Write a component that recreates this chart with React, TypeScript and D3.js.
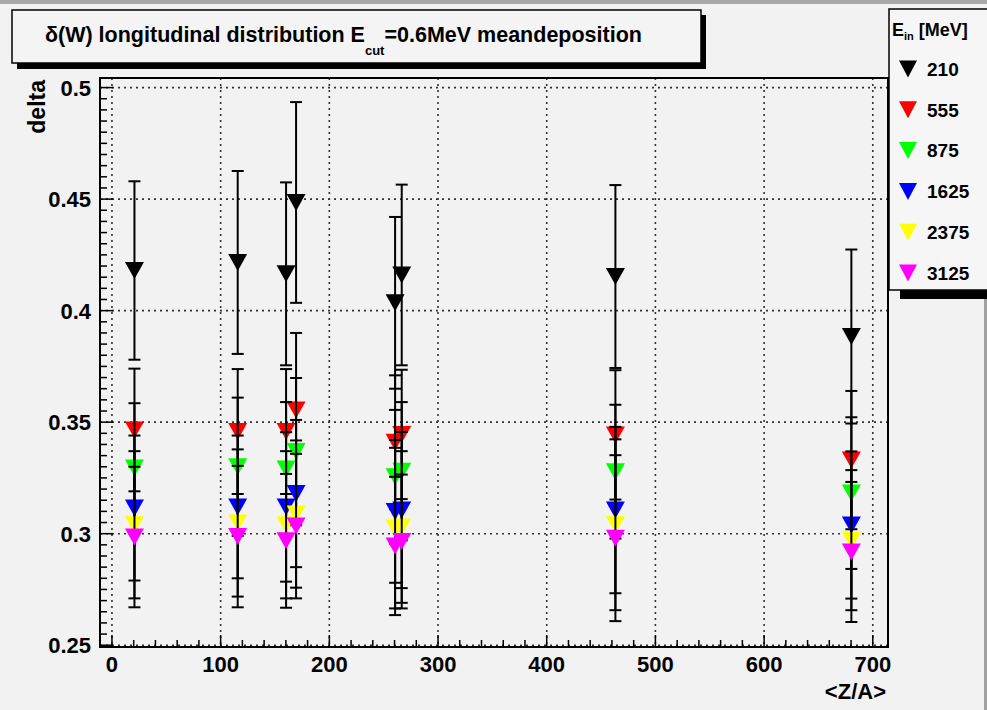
import React from "react";
import * as d3 from "d3";

// <Z/A> positions of the absorbers
const ZA_VALUES = [20.7, 115.7, 160.2, 169.4, 260.5, 266.6, 463.2, 680.3];

// incident energies (legend) and marker colours
const ENERGIES = ["210", "555", "875", "1625", "2375", "3125"];
const COLORS = ["#000000", "#ff0000", "#00ff00", "#0000ff", "#ffff00", "#ff00ff"];

// delta values and errors, one array per energy
const DELTA_210 = [0.418, 0.4216, 0.4165, 0.4485, 0.4035, 0.416, 0.4153, 0.3884];
const ERR_210 = [0.04, 0.041, 0.041, 0.045, 0.0385, 0.0405, 0.041, 0.039];
const DELTA_555 = [0.3465, 0.3458, 0.3458, 0.3555, 0.341, 0.3445, 0.3443, 0.333];
const ERR_555 = [0.0275, 0.028, 0.028, 0.0345, 0.03, 0.029, 0.029, 0.031];
const DELTA_875 = [0.3295, 0.33, 0.329, 0.3368, 0.3255, 0.328, 0.3278, 0.3182];
const ERR_875 = [0.029, 0.031, 0.03, 0.033, 0.03, 0.031, 0.03, 0.034];
const DELTA_1625 = [0.3115, 0.312, 0.312, 0.318, 0.31, 0.3106, 0.3106, 0.3039];
const ERR_1625 = [0.0325, 0.032, 0.0335, 0.033, 0.032, 0.035, 0.0373, 0.033];
const DELTA_2375 = [0.304, 0.3048, 0.304, 0.3088, 0.3025, 0.303, 0.304, 0.2971];
const ERR_2375 = [0.033, 0.033, 0.033, 0.033, 0.036, 0.034, 0.0383, 0.0314];
const DELTA_3125 = [0.2985, 0.2987, 0.2968, 0.3034, 0.2945, 0.2965, 0.298, 0.2918];
const ERR_3125 = [0.0315, 0.0317, 0.03, 0.0324, 0.031, 0.03, 0.0372, 0.0314];

const X_TICKS = [0, 100, 200, 300, 400, 500, 600, 700];
const Y_TICKS = [0.25, 0.3, 0.35, 0.4, 0.45, 0.5];

const SERIES = [
  { values: DELTA_210, errors: ERR_210 },
  { values: DELTA_555, errors: ERR_555 },
  { values: DELTA_875, errors: ERR_875 },
  { values: DELTA_1625, errors: ERR_1625 },
  { values: DELTA_2375, errors: ERR_2375 },
  { values: DELTA_3125, errors: ERR_3125 },
];

const W = 987;
const H = 710;
const frame = { left: 100, right: 888, top: 78, bottom: 647 };
const font = "'Liberation Sans', Arial, Helvetica, sans-serif";

const tri = (cx: number, cy: number, w = 19, h = 17) =>
  `M${cx - w / 2},${cy - h / 2}L${cx + w / 2},${cy - h / 2}L${cx},${cy + h / 2}Z`;

export default function App() {
  const x = d3.scaleLinear().domain([-11, 714]).range([frame.left, frame.right]);
  const y = d3.scaleLinear().domain([0.2492, 0.5043]).range([frame.bottom, frame.top]);

  const xMinor = d3.range(0, 714, 20).filter((v) => v % 100 !== 0);
  const yMinor = d3.range(250, 504, 5).map((v) => v / 1000).filter((v) => Math.round(v * 1000) % 50 !== 0);

  return (
    <div style={{ position: "fixed", left: 0, top: 0 }}>
      <svg width={W} height={H} style={{ display: "block", fontFamily: font }}>
        <rect width={W} height={H} fill="#f2f2f2" />
        <rect width={W} height={4} fill="#a8a8a8" />
        <rect x={984} y={299} width={3} height={H - 299} fill="#a0a0a0" />

        {/* grid */}
        <g stroke="#333" strokeWidth={1.6} strokeDasharray="2 4">
          {X_TICKS.map((t) => (
            <line key={"gx" + t} x1={x(t)} x2={x(t)} y1={frame.top} y2={frame.bottom} />
          ))}
          {Y_TICKS.map((t) => (
            <line key={"gy" + t} x1={frame.left} x2={frame.right} y1={y(t)} y2={y(t)} />
          ))}
        </g>

        {/* ticks */}
        <g stroke="#000" strokeWidth={1.5}>
          {X_TICKS.map((t) => (
            <line key={"tx" + t} x1={x(t)} x2={x(t)} y1={frame.bottom} y2={frame.bottom - 12} />
          ))}
          {xMinor.map((t) => (
            <line key={"mx" + t} x1={x(t)} x2={x(t)} y1={frame.bottom} y2={frame.bottom - 7} />
          ))}
          {Y_TICKS.map((t) => (
            <line key={"ty" + t} x1={frame.left} x2={frame.left + 13} y1={y(t)} y2={y(t)} />
          ))}
          {yMinor.map((t) => (
            <line key={"my" + t} x1={frame.left} x2={frame.left + 7} y1={y(t)} y2={y(t)} />
          ))}
        </g>

        {/* tick labels */}
        <g fontWeight="bold" fontSize={22} fill="#000">
          {X_TICKS.map((t) => (
            <text key={"lx" + t} x={x(t)} y={672} textAnchor="middle">
              {t}
            </text>
          ))}
          {Y_TICKS.map((t) => (
            <text key={"ly" + t} x={91} y={y(t)} dy="0.36em" textAnchor="end">
              {d3.format("~g")(t)}
            </text>
          ))}
          <text x={886} y={699} textAnchor="end">
            {"<Z/A>"}
          </text>
          <text transform="translate(45,80) rotate(-90)" textAnchor="end" fontSize={23}>
            delta
          </text>
        </g>

        {/* data */}
        {SERIES.map((s, si) => (
          <g key={"s" + si}>
            <g stroke="#000" strokeWidth={2}>
              {s.values.map((v, i) => {
                const cx = x(ZA_VALUES[i]);
                const lo = y(v - s.errors[i]);
                const hi = y(v + s.errors[i]);
                return (
                  <g key={i}>
                    <line x1={cx} x2={cx} y1={lo} y2={hi} />
                    <line x1={cx - 6} x2={cx + 6} y1={lo} y2={lo} />
                    <line x1={cx - 6} x2={cx + 6} y1={hi} y2={hi} />
                  </g>
                );
              })}
            </g>
            {s.values.map((v, i) => (
              <path key={"m" + i} d={tri(x(ZA_VALUES[i]), y(v))} fill={COLORS[si]} />
            ))}
          </g>
        ))}

        {/* frame */}
        <rect
          x={frame.left}
          y={frame.top}
          width={frame.right - frame.left}
          height={frame.bottom - frame.top}
          fill="none"
          stroke="#000"
          strokeWidth={2}
        />

        {/* title box */}
        <rect x={17} y={15} width={689} height={54} fill="#000" />
        <rect x={12} y={10} width={689} height={53} fill="#f4f4f4" stroke="#000" strokeWidth={1.5} />
        <text x={45} y={42} fontWeight="bold" fontSize={21.5} fill="#000">
          <tspan>δ(W) longitudinal distribution E</tspan>
          <tspan fontSize={13} dy={13}>cut</tspan>
          <tspan dy={-13}>=0.6MeV meandeposition</tspan>
        </text>

        {/* legend */}
        <rect x={900} y={289} width={87} height={10} fill="#000" />
        <rect x={889} y={9} width={100} height={281} fill="#f6f6f6" stroke="#000" strokeWidth={1.5} />
        <text x={892} y={36} fontWeight="bold" fontSize={18} fill="#000">
          <tspan>E</tspan>
          <tspan fontSize={11} dy={4}>in</tspan>
          <tspan dy={-4}> [MeV]</tspan>
        </text>
        {ENERGIES.map((e, i) => {
          const ly = 69 + i * 40.8;
          return (
            <g key={"lg" + e}>
              <path d={tri(908, ly, 18, 17)} fill={COLORS[i]} />
              <text x={927} y={ly} dy="0.36em" fontWeight="bold" fontSize={19} fill="#000">
                {e}
              </text>
            </g>
          );
        })}
      </svg>
    </div>
  );
}
